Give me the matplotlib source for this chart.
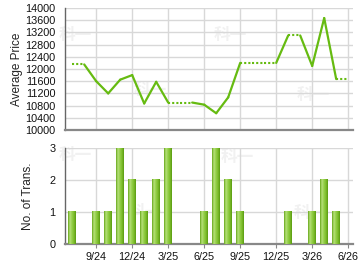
import numpy as np
import matplotlib
matplotlib.use("Agg")
import matplotlib.pyplot as plt
from matplotlib.colors import LinearSegmentedColormap

# monthly data, 7/24 .. 6/26
months = ['7/24', '8/24', '9/24', '10/24', '11/24', '12/24',
          '1/25', '2/25', '3/25', '4/25', '5/25', '6/25',
          '7/25', '8/25', '9/25', '10/25', '11/25', '12/25',
          '1/26', '2/26', '3/26', '4/26', '5/26', '6/26']
price = [12150, None, 11600, 11200, 11650, 11800,
         10870, 11580, 10900, None, None, 10830,
         10550, 11070, 12200, None, None, None,
         13100, None, 12100, 13670, 11670, None]
trans = [1, 0, 1, 1, 3, 2,
         1, 2, 3, 0, 0, 1,
         3, 2, 1, 0, 0, 0,
         1, 0, 1, 2, 1, 0]
tick_labels = ['9/24', '12/24', '3/25', '6/25', '9/25', '12/25', '3/26', '6/26']
price_ticks = list(range(10000, 14001, 400))
trans_ticks = [0, 1, 2, 3]

plt.rcParams['font.family'] = ['Liberation Sans', 'DejaVu Sans']

green = '#66bb11'
grid_c = '#d8d8d8'
spine_c = '#666666'

fig = plt.figure(figsize=(3.6, 2.7), dpi=100)
ax1 = fig.add_axes([65/360, 1-130/270, 288/360, 122/270])
ax2 = fig.add_axes([65/360, 1-244/270, 288/360, 96.5/270])

x = np.arange(len(months))
tick_pos = [months.index(t) for t in tick_labels]

# carry last value forward through empty months
vals = []
last = None
for p in price:
    if p is not None:
        last = p
    vals.append(last)

for i in range(len(months) - 1):
    solid = price[i+1] is not None
    ax1.plot([x[i], x[i+1]], [vals[i], vals[i+1]], color=green,
             lw=1.6 if solid else 1.5,
             ls='-' if solid else (0, (1, 1)),
             solid_capstyle='round', zorder=3)

# bars with a horizontal gradient
cmap = LinearSegmentedColormap.from_list('bar', ['#68a81c', '#b6e07a', '#95cf4a', '#7dbd2c', '#5a9c12'])
grad = np.linspace(0, 1, 50).reshape(1, -1)
w = 0.66
for xi, t in zip(x, trans):
    if t > 0:
        ax2.imshow(grad, cmap=cmap, aspect='auto', extent=(xi - w/2, xi + w/2, 0, t), zorder=3)

for ax in (ax1, ax2):
    ax.set_xlim(-0.6, 23.4)
    ax.set_xticks(tick_pos)
    ax.grid(True, color=grid_c, lw=1)
    ax.set_axisbelow(True)
    for s in ['top', 'right']:
        ax.spines[s].set_visible(False)
    ax.spines['left'].set_color(spine_c)
    ax.spines['left'].set_linewidth(1)
    ax.spines['bottom'].set_color('#888888')
    ax.spines['bottom'].set_linewidth(1.6)
    ax.tick_params(axis='y', length=0, pad=7, labelsize=7.8, colors='#111111')

ax1.set_ylim(10000, 14000)
ax1.set_yticks(price_ticks)
ax1.tick_params(axis='x', length=0, labelbottom=False)
ax1.set_ylabel('Average Price', fontsize=8.5, color='#222222', labelpad=1.5)

ax2.set_ylim(0, 3)
ax2.set_yticks(trans_ticks)
ax2.set_xticklabels(tick_labels)
ax2.tick_params(axis='x', length=3, pad=3, labelsize=7.8, colors='#888888', labelcolor='#111111')
ax2.set_ylabel('No. of Trans.', fontsize=8.5, color='#222222', labelpad=11)

# faint watermarks, behind the data
wm = dict(fontsize=12, color='#f1f1f1', fontweight='bold', ha='center', va='center',
          family=['Noto Sans CJK SC', 'DejaVu Sans'], zorder=0.2, transform=fig.transFigure)
for ax, spots in [(ax1, [(75, 35), (150, 90), (230, 35), (313, 95)]),
                  (ax2, [(75, 155), (145, 212), (237, 157), (310, 213)])]:
    for (px, py) in spots:
        ax.text(px/360, 1-py/270, '科一', **wm)

fig.savefig('out.png', dpi=100)
